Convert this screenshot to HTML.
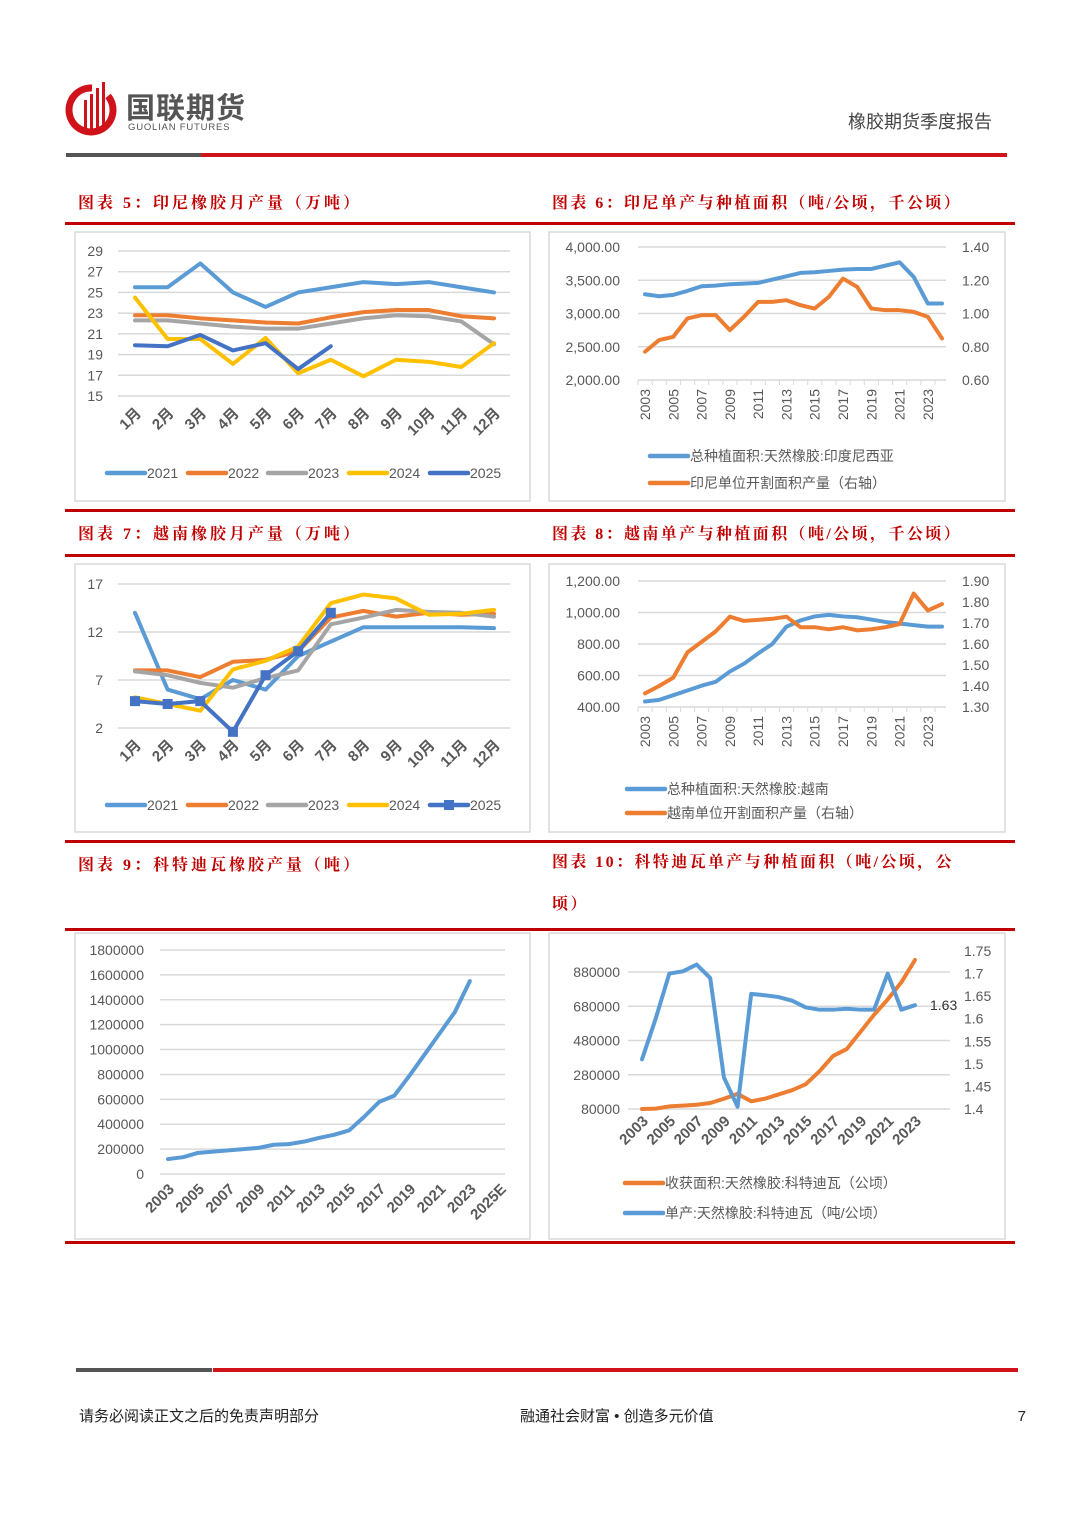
<!DOCTYPE html>
<html><head><meta charset="utf-8">
<style>
body{margin:0;background:#fff;}
#page{position:relative;width:1080px;height:1527px;overflow:hidden;font-family:"Liberation Sans","Noto Sans CJK SC",sans-serif;}
.ttl{position:absolute;color:#c00000;font-family:"Liberation Serif","Noto Serif CJK SC",serif;font-weight:bold;font-size:16px;letter-spacing:3px;white-space:nowrap;}
</style></head>
<body>
<div id="page">
<svg id="svg" width="1080" height="1527" style="position:absolute;left:0;top:0">
  <g>
    <path d="M92 88 A22 22 0 1 0 108 96" fill="none" stroke="#d0121b" stroke-width="7"/>
    <rect x="84" y="100" width="3" height="30" fill="#d0121b"/>
    <rect x="90" y="94" width="3" height="36" fill="#d0121b"/>
    <rect x="96" y="88" width="3" height="42" fill="#d0121b"/>
    <rect x="102" y="82" width="3" height="48" fill="#d0121b"/>
    <text x="126" y="118" font-size="29" font-weight="bold" fill="#555" font-family="Liberation Sans,Noto Sans CJK SC,sans-serif" letter-spacing="1">国联期货</text>
    <text x="128" y="130" font-size="9.5" fill="#555" letter-spacing="0.8">GUOLIAN  FUTURES</text>
  </g>
  <text x="992" y="128" font-size="18" fill="#444" text-anchor="end" font-family="Liberation Sans,Noto Sans CJK SC,sans-serif">橡胶期货季度报告</text>
  <rect x="66" y="153" width="135" height="4" fill="#555"/>
  <rect x="201" y="153" width="806" height="4" fill="#d0121b"/>
  <rect x="76" y="1368" width="136" height="4" fill="#555"/>
  <rect x="213" y="1368" width="805" height="4" fill="#d0121b"/>
  <text x="79" y="1421" font-size="15" fill="#222">请务必阅读正文之后的免责声明部分</text>
  <text x="520" y="1421" font-size="15" fill="#222">融通社会财富 • 创造多元价值</text>
  <text x="1026" y="1421" font-size="15" fill="#222" text-anchor="end">7</text>
  <g fill="#c00000">
    <rect x="65" y="222" width="950" height="3"/>
    <rect x="65" y="509" width="950" height="3"/>
    <rect x="65" y="554" width="950" height="3"/>
    <rect x="65" y="840" width="950" height="3"/>
    <rect x="65" y="928" width="950" height="3"/>
    <rect x="65" y="1241" width="950" height="3"/>
  </g>
  <g fill="none" stroke="#d9d9d9" stroke-width="1.5">
    <rect x="75" y="232" width="455" height="269"/>
    <rect x="549" y="232" width="456" height="269"/>
    <rect x="75" y="564" width="455" height="268"/>
    <rect x="549" y="564" width="456" height="268"/>
    <rect x="75" y="933" width="455" height="306"/>
    <rect x="549" y="933" width="456" height="306"/>
  </g>
  <g id="charts"></g>
</svg>
<div class="ttl" style="left:78px;top:190px">图表 5：印尼橡胶月产量（万吨）</div>
<div class="ttl" style="left:552px;top:190px;letter-spacing:2.4px">图表 6：印尼单产与种植面积（吨/公顷，千公顷）</div>
<div class="ttl" style="left:78px;top:521px">图表 7：越南橡胶月产量（万吨）</div>
<div class="ttl" style="left:552px;top:521px;letter-spacing:2.4px">图表 8：越南单产与种植面积（吨/公顷，千公顷）</div>
<div class="ttl" style="left:78px;top:852px">图表 9：科特迪瓦橡胶产量（吨）</div>
<div class="ttl" style="left:552px;top:842px;line-height:42px;letter-spacing:2.4px">图表 10：科特迪瓦单产与种植面积（吨/公顷，公<br>顷）</div>
</div>
<script>
// ---- data ----
const months = ["1月","2月","3月","4月","5月","6月","7月","8月","9月","10月","11月","12月"];
const seriesYears = ["2021","2022","2023","2024","2025"];
const idn2021 = [25.5,25.5,27.8,25,23.6,25,25.5,26,25.8,26,25.5,25];
const idn2022 = [22.8,22.8,22.5,22.3,22.1,22,22.6,23.1,23.3,23.3,22.7,22.5];
const idn2023 = [22.3,22.3,22,21.7,21.5,21.5,22,22.5,22.8,22.7,22.2,20];
const idn2024 = [24.5,20.5,20.5,18.1,20.6,17.2,18.5,16.9,18.5,18.3,17.8,20.1];
const idn2025 = [19.9,19.8,20.9,19.4,20.1,17.6,19.8];
const idnTicks = [15,17,19,21,23,25,27,29];
const vn2021 = [14,6,5,7,6,9.5,11,12.5,12.5,12.5,12.5,12.4];
const vn2022 = [8,8,7.3,8.9,9.1,10,13.5,14.2,13.6,14,13.8,13.9];
const vn2023 = [7.9,7.5,6.7,6.2,7.2,8,12.8,13.5,14.3,14.1,14,13.6];
const vn2024 = [5.2,4.5,3.8,8.1,9,10.5,15,15.9,15.5,13.8,13.9,14.3];
const vn2025 = [4.8,4.5,4.8,1.6,7.5,10,14];
const vnTicks = [2,7,12,17];
const years22 = ["2003","2004","2005","2006","2007","2008","2009","2010","2011","2012","2013","2014","2015","2016","2017","2018","2019","2020","2021","2022","2023","2024"];
const idnArea = [3290,3260,3280,3340,3410,3420,3440,3450,3460,3510,3560,3610,3620,3640,3660,3670,3670,3720,3770,3550,3150,3150];
const idnYield = [0.77,0.84,0.86,0.97,0.99,0.99,0.90,0.98,1.07,1.07,1.08,1.05,1.03,1.10,1.21,1.16,1.03,1.02,1.02,1.01,0.98,0.85];
const idnAreaTicks = ["2,000.00","2,500.00","3,000.00","3,500.00","4,000.00"];
const idnYieldTicks = ["0.60","0.80","1.00","1.20","1.40"];
const vnArea = [435,445,475,505,535,560,625,675,740,800,910,950,975,985,975,970,955,940,930,920,910,910];
const vnYield = [1.365,1.40,1.44,1.56,1.61,1.66,1.73,1.71,1.715,1.72,1.73,1.68,1.68,1.67,1.68,1.665,1.67,1.68,1.695,1.84,1.76,1.79];
const vnAreaTicks = ["400.00","600.00","800.00","1,000.00","1,200.00"];
const vnYieldTicks = ["1.30","1.40","1.50","1.60","1.70","1.80","1.90"];
const civCats = ["2003","2004","2005","2006","2007","2008","2009","2010","2011","2012","2013","2014","2015","2016","2017","2018","2019","2020","2021","2022","2023","2024","2025E"];
const civOutput = [120000,135000,170000,180000,190000,200000,210000,235000,240000,260000,290000,315000,350000,460000,580000,630000,790000,960000,1130000,1300000,1550000];
const civOutTicks = [0,200000,400000,600000,800000,1000000,1200000,1400000,1600000,1800000];
const years21 = ["2003","2004","2005","2006","2007","2008","2009","2010","2011","2012","2013","2014","2015","2016","2017","2018","2019","2020","2021","2022","2023"];
const civArea = [80000,82000,95000,100000,105000,115000,140000,168000,125000,140000,165000,190000,225000,300000,390000,430000,530000,630000,720000,820000,950000];
const civYield = [1.51,1.60,1.70,1.705,1.72,1.69,1.47,1.405,1.655,1.652,1.648,1.64,1.625,1.62,1.62,1.622,1.62,1.62,1.70,1.62,1.63];
const civAreaTicks = [80000,280000,480000,680000,880000];
const civYieldTicks = ["1.4","1.45","1.5","1.55","1.6","1.65","1.7","1.75"];

const BLUE="#5b9bd5", ORANGE="#ed7d31", GRAY="#a5a5a5", YELLOW="#ffc000", DBLUE="#4472c4";
const NS="http://www.w3.org/2000/svg";
const root=document.getElementById('charts');
function mk(tag,attrs,parent){const e=document.createElementNS(NS,tag);for(const k in attrs)e.setAttribute(k,attrs[k]);(parent||root).appendChild(e);return e;}
function lin(v,v0,v1,p0,p1){return p0+(v-v0)/(v1-v0)*(p1-p0);}
function txt(x,y,s,anchor,size,rot,weight){const t=mk('text',{x:x,y:y,'font-size':size||14,fill:'#595959','text-anchor':anchor||'start'});if(weight)t.setAttribute('font-weight',weight);if(rot!==undefined)t.setAttribute('transform','rotate('+rot+' '+x+' '+y+')');t.textContent=s;return t;}
function grid(x0,x1,y){const l=mk('line',{x1:x0,x2:x1,y1:y,y2:y,stroke:'#d9d9d9','stroke-width':1.5});

}
function series(vals,n,x0,x1,v0,v1,y0,y1,color,w,name){const pts=vals.map((v,i)=>[lin(i,0,n-1,x0,x1),lin(v,v0,v1,y0,y1)]);
const p=mk('polyline',{points:pts.map(q=>q.join(',')).join(' '),fill:'none',stroke:color,'stroke-width':w,'stroke-linejoin':'round','stroke-linecap':'round'});


return pts;}
function legend(x,y,color,label,marker){mk('line',{x1:x,x2:x+38,y1:y,y2:y,stroke:color,'stroke-width':4.5,'stroke-linecap':'round'});
if(marker)mk('rect',{x:x+14,y:y-5,width:10,height:10,fill:color});
const t=txt(x+40,y+5,label,'start',14);

}

// ---- monthly charts (5 and 7) ----
function monthly(ticks,tmin,tmax,yTop,yBot,data,colors,labelY,legY,markLast){
  const x0=135,x1=494;
  ticks.forEach(t=>{const y=lin(t,tmin,tmax,yBot,yTop);grid(118,510,y);txt(103,y+5,t,'end',14);});
  months.forEach((m,i)=>{const x=lin(i,0,11,x0,x1);txt(x+7,labelY,m,'end',15,-45,'bold');});
  data.forEach((d,k)=>{const pts=series(d,12,x0,x1,tmin,tmax,yBot,yTop,colors[k],4,'series-'+seriesYears[k]);
    if(markLast&&k===4){pts.forEach(p=>{const r=mk('rect',{x:p[0]-5,y:p[1]-5,width:10,height:10,fill:colors[k]});
      
      });}});
  const lx=[107,188,268,349,430];
  seriesYears.forEach((s,k)=>legend(lx[k],legY,colors[k],s,markLast&&k===4));
}
monthly(idnTicks,15,29,251,396,[idn2021,idn2022,idn2023,idn2024,idn2025],[BLUE,ORANGE,GRAY,YELLOW,DBLUE],414,473,false);
monthly(vnTicks,2,17,584,728,[vn2021,vn2022,vn2023,vn2024,vn2025],[BLUE,ORANGE,GRAY,YELLOW,DBLUE],746,805,true);

// ---- dual-axis year charts (6 and 8) ----
function dual(cats,area,yld,aTicks,a0,a1,yTicks,y0v,y1v,yTop,yBot,legY1,legY2,lab1,lab2,lx){
  const x0=645,x1=942;
  aTicks.forEach((t,i)=>{const y=lin(i,0,aTicks.length-1,yBot,yTop);grid(638,946,y);txt(620,y+5,t,'end',14);});
  yTicks.forEach((t,i)=>{const y=lin(i,0,yTicks.length-1,yBot,yTop);txt(962,y+5,t,'start',14);});
  cats.forEach((c,i)=>{const x=lin(i,0,cats.length-1,x0,x1);
    mk('line',{x1:x-7,x2:x-7,y1:yBot,y2:yBot+5,stroke:'#d9d9d9'});
    if(i%2===0)txt(x+5,yBot+9,c,'end',14,-90);});
  series(area,cats.length,x0,x1,a0,a1,yBot,yTop,BLUE,4,'area-series');
  series(yld,cats.length,x0,x1,y0v,y1v,yBot,yTop,ORANGE,4,'yield-series');
  legend(lx,legY1,BLUE,lab1);legend(lx,legY2,ORANGE,lab2);
}
dual(years22,idnArea,idnYield,idnAreaTicks,2000,4000,idnYieldTicks,0.6,1.4,247,380,456,483,"总种植面积:天然橡胶:印度尼西亚","印尼单位开割面积产量（右轴）",650);
dual(years22,vnArea,vnYield,vnAreaTicks,400,1200,vnYieldTicks,1.3,1.9,581,707,789,813,"总种植面积:天然橡胶:越南","越南单位开割面积产量（右轴）",627);

// ---- chart 9 ----
(function(){const x0=168,x1=500,yTop=950,yBot=1174;
  civOutTicks.forEach(t=>{const y=lin(t,0,1800000,yBot,yTop);grid(160,505,y);txt(144,y+5,t,'end',14);});
  civCats.forEach((c,i)=>{if(i%2===0){const x=lin(i,0,civCats.length-1,x0,x1);txt(x+7,1190,c,'end',15,-45,'bold');}});
  series(civOutput,civCats.length,x0,x1,0,1800000,yBot,yTop,BLUE,4,'civ-output-series');
})();

// ---- chart 10 ----
(function(){const x0=642,x1=915,yB=1109;
  civAreaTicks.forEach(t=>{const y=lin(t,80000,880000,yB,972);grid(628,950,y);txt(620,y+5,t,'end',14);});
  civYieldTicks.forEach((t,i)=>{const y=lin(i,0,civYieldTicks.length-1,yB,951);txt(964,y+5,t,'start',14);});
  years21.forEach((c,i)=>{if(i%2===0){const x=lin(i,0,years21.length-1,x0,x1);txt(x+7,1122,c,'end',15,-45,'bold');}});
  series(civArea,years21.length,x0,x1,80000,880000,yB,972,ORANGE,4,'civ-area-series');
  const pts=series(civYield,years21.length,x0,x1,1.4,1.75,yB,951,BLUE,4,'civ-yield-series');
  const last=pts[pts.length-1];
  const lbl=txt(930,last[1]+5,civYield[civYield.length-1].toFixed(2),'start',14);
  lbl.setAttribute('fill','#333');
  
  
  legend(625,1183,ORANGE,"收获面积:天然橡胶:科特迪瓦（公顷）");
  legend(625,1213,BLUE,"单产:天然橡胶:科特迪瓦（吨/公顷）");
})();
</script>
</body></html>
